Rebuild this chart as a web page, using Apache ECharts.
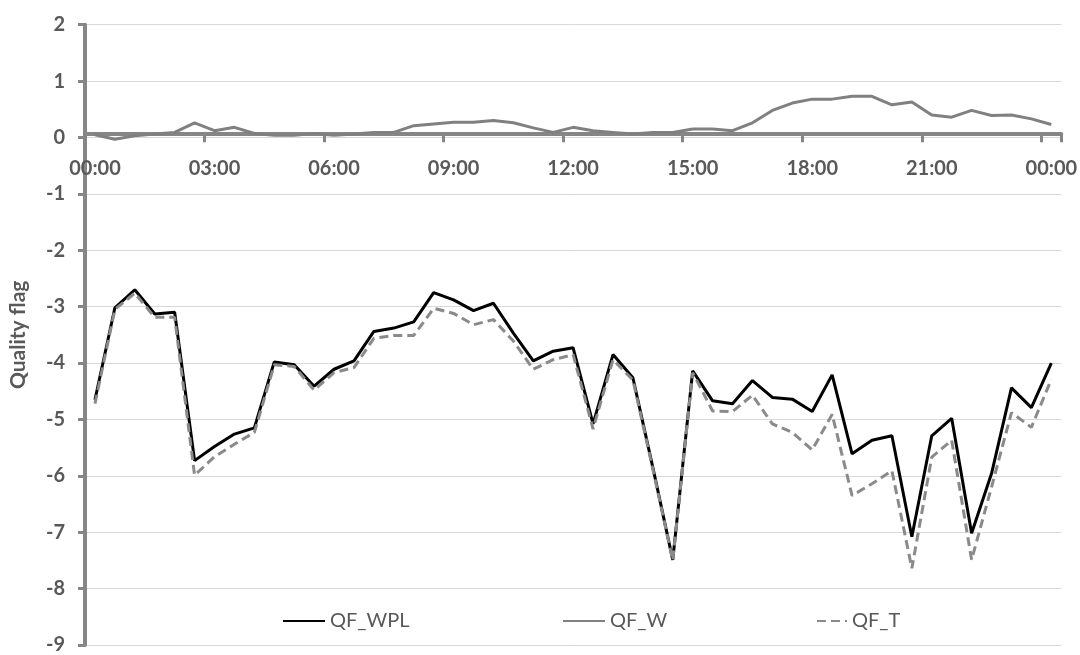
<!DOCTYPE html>
<html>
<head>
<meta charset="utf-8">
<script src="https://cdn.jsdelivr.net/npm/echarts@6/dist/echarts.min.js"></script>
<style>
html,body{margin:0;padding:0;background:#fff;}
#chart{width:1080px;height:655px;}
</style>
</head>
<body>
<div id="chart"></div>
<script>
const times = ['00:00','00:30','01:00','01:30','02:00','02:30','03:00','03:30','04:00','04:30','05:00','05:30',
  '06:00','06:30','07:00','07:30','08:00','08:30','09:00','09:30','10:00','10:30','11:00','11:30',
  '12:00','12:30','13:00','13:30','14:00','14:30','15:00','15:30','16:00','16:30','17:00','17:30',
  '18:00','18:30','19:00','19:30','20:00','20:30','21:00','21:30','22:00','22:30','23:00','23:30','00:00'];

const qfWPL = [-4.65,-3.02,-2.70,-3.13,-3.10,-5.73,-5.48,-5.26,-5.15,-3.98,-4.03,-4.41,
  -4.11,-3.96,-3.44,-3.38,-3.27,-2.75,-2.88,-3.07,-2.94,-3.47,-3.96,-3.79,
  -3.73,-5.08,-3.85,-4.26,-5.85,-7.49,-4.14,-4.67,-4.72,-4.31,-4.61,-4.64,
  -4.86,-4.21,-5.61,-5.37,-5.29,-7.08,-5.29,-4.98,-7.02,-5.96,-4.44,-4.79,-4.00];

const qfW = [0.05,-0.03,0.03,0.06,0.09,0.26,0.12,0.18,0.07,0.04,0.04,0.07,
  0.04,0.06,0.09,0.09,0.21,0.24,0.27,0.27,0.30,0.26,0.17,0.09,
  0.18,0.12,0.09,0.06,0.09,0.09,0.15,0.15,0.12,0.26,0.48,0.61,
  0.68,0.68,0.73,0.73,0.58,0.63,0.40,0.36,0.48,0.39,0.40,0.33,0.23];

const qfT = [-4.72,-3.05,-2.76,-3.19,-3.19,-5.99,-5.66,-5.44,-5.23,-4.03,-4.06,-4.48,
  -4.17,-4.08,-3.56,-3.51,-3.51,-3.03,-3.12,-3.32,-3.23,-3.61,-4.11,-3.94,
  -3.85,-5.17,-3.94,-4.30,-5.88,-7.50,-4.17,-4.85,-4.86,-4.57,-5.08,-5.23,
  -5.54,-4.91,-6.35,-6.14,-5.91,-7.64,-5.67,-5.37,-7.49,-6.20,-4.88,-5.14,-4.29];

const yMin = -9, yMax = 2;
const FONT = 'Lato';
const TXT = '#595959';
const AX = '#868686';
const GRID_TOP = 24.7, GRID_BOTTOM = 6, H = 655;
const plotH = H - GRID_TOP - GRID_BOTTOM;
const zeroOffset = -plotH * (0 - yMin) / (yMax - yMin);

const chart = echarts.init(document.getElementById('chart'), null, {renderer:'canvas'});
const legendBase = {
  orient:'horizontal', top:611, padding:0, itemHeight:14,
  itemStyle:{color:'rgba(0,0,0,0)', borderWidth:0, opacity:0},
  textStyle:{fontFamily:FONT, fontSize:20, color:TXT}
};
chart.setOption({
  animation:false,
  backgroundColor:'#fff',
  grid:{left:79, right:17, top:GRID_TOP, bottom:GRID_BOTTOM, containLabel:false},
  legend:[
    Object.assign({}, legendBase, {data:['QF_WPL'], left:282, itemWidth:42}),
    Object.assign({}, legendBase, {data:['QF_W'], left:562, itemWidth:42}),
    Object.assign({}, legendBase, {data:['QF_T'], left:816, itemWidth:30})
  ],
  xAxis:{
    type:'category',
    data:times,
    boundaryGap:true,
    position:'bottom',
    offset:zeroOffset,
    axisLine:{show:true, onZero:false, lineStyle:{color:AX, width:4}},
    axisTick:{show:true, interval:5, length:8, lineStyle:{color:AX, width:3}},
    axisLabel:{interval:5, margin:14, padding:[10,0,0,0], fontFamily:FONT, fontSize:20, fontWeight:'bold', color:TXT},
    splitLine:{show:false}
  },
  yAxis:{
    type:'value',
    min:yMin, max:yMax, interval:1,
    name:'Quality flag',
    nameLocation:'middle',
    nameGap:56,
    nameTextStyle:{fontFamily:FONT, fontSize:21, fontWeight:'bold', color:TXT},
    axisLine:{show:true, lineStyle:{color:AX, width:4}},
    axisTick:{show:true, length:7, lineStyle:{color:AX, width:3}},
    axisLabel:{margin:20, fontFamily:FONT, fontSize:20, fontWeight:'bold', color:TXT},
    splitLine:{show:true, lineStyle:{color:'#d9d9d9', width:1}}
  },
  series:[
    {name:'QF_WPL', type:'line', data:qfWPL, symbol:'none', z:3,
     lineStyle:{color:'#000000', width:3}, itemStyle:{color:'#000000'}},
    {name:'QF_W', type:'line', data:qfW, symbol:'none', z:3,
     lineStyle:{color:'#808080', width:3}, itemStyle:{color:'#808080'}},
    {name:'QF_T', type:'line', data:qfT, symbol:'none', z:4,
     lineStyle:{color:'#8a8a8a', width:3, type:[9,5]}, itemStyle:{color:'#8a8a8a'}}
  ]
});
</script>
</body>
</html>
